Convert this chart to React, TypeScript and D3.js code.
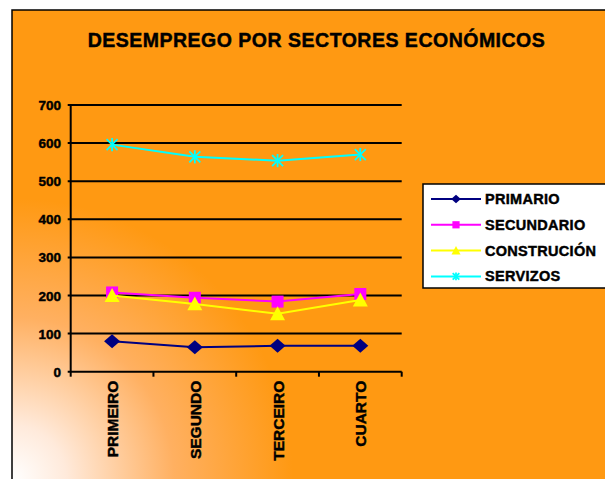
import React from "react";
import * as d3 from "d3";

const categories = ["PRIMEIRO", "SEGUNDO", "TERCEIRO", "CUARTO"];
const seriesNames = ["PRIMARIO", "SECUNDARIO", "CONSTRUCIÓN", "SERVIZOS"];
const primario = [80, 64, 68, 68];
const secundario = [208, 194, 184, 204];
const construcion = [200, 178, 152, 188];
const servizos = [596, 564, 554, 570];
const yTicks = [0, 100, 200, 300, 400, 500, 600, 700];

const colors = ["#000080", "#FF00FF", "#FFFF00", "#00FFFF"];
const markers = ["diamond", "square", "triangle", "x"];
const allSeries = [primario, secundario, construcion, servizos];

const W = 605, H = 479;
const plot = { left: 70.7, right: 401.7, top: 105, bottom: 371.7 };
const font = "Arial, 'Liberation Sans', sans-serif";

function Marker({ type, x, y, color, s = 1 }: { type: string; x: number; y: number; color: string; s?: number }) {
  if (type === "diamond") {
    const rx = 8 * s, ry = 7 * s;
    return <path d={`M${x},${y - ry}L${x + rx},${y}L${x},${y + ry}L${x - rx},${y}Z`} fill={color} />;
  }
  if (type === "square") {
    const r = 6 * s;
    return <rect x={x - r} y={y - r} width={2 * r} height={2 * r} fill={color} />;
  }
  if (type === "triangle") {
    const r = 7.5 * s;
    return <path d={`M${x},${y - r}L${x + r},${y + r * 0.85}L${x - r},${y + r * 0.85}Z`} fill={color} />;
  }
  const r = 5.5 * s;
  return (
    <g stroke={color} strokeWidth={1.8}>
      <line x1={x - r} y1={y - r} x2={x + r} y2={y + r} />
      <line x1={x - r} y1={y + r} x2={x + r} y2={y - r} />
      <line x1={x} y1={y - r * 1.2} x2={x} y2={y + r * 1.2} />
    </g>
  );
}

export default function App() {
  const x = d3.scaleBand().domain(categories).range([plot.left, plot.right]);
  const y = d3.scaleLinear().domain([0, 700]).range([plot.bottom, plot.top]);
  const line = d3.line<number>().x((_, i) => (x(categories[i]) as number) + x.bandwidth() / 2).y((d) => y(d));
  const tickXs = [...categories.map((c) => x(c) as number), plot.right];
  const bold = { fontFamily: font, fontWeight: "bold" as const, fill: "#000", stroke: "#000", strokeWidth: 0.45 };

  return (
    <svg width={W} height={H} style={{ position: "absolute", left: 0, top: 0 }}>
      <defs>
        <radialGradient id="bg" gradientUnits="userSpaceOnUse" cx={12} cy={479} r={360}>
          <stop offset="0" stopColor="#FFFFFF" />
          <stop offset="0.15" stopColor="#FFEADB" />
          <stop offset="0.45" stopColor="#FFB061" />
          <stop offset="0.78" stopColor="#FF9912" />
          <stop offset="1" stopColor="#FF9912" />
        </radialGradient>
      </defs>
      <rect x={0} y={0} width={W} height={H} fill="#fff" />
      <rect x={12} y={10} width={W} height={H} fill="url(#bg)" stroke="#000" strokeWidth={1.5} />
      <text x={316.5} y={47} textAnchor="middle" fontSize={19.5} letterSpacing={0.5} {...bold}>
        DESEMPREGO POR SECTORES ECONÓMICOS
      </text>
      {yTicks.map((t) => (
        <g key={t}>
          <line x1={plot.left - 3} x2={plot.right} y1={y(t)} y2={y(t)} stroke="#000" strokeWidth={2} />
          <text x={61} y={y(t) + 5} textAnchor="end" fontSize={13.5} {...bold}>
            {t}
          </text>
        </g>
      ))}
      <line x1={plot.left} x2={plot.left} y1={plot.top} y2={plot.bottom} stroke="#000" strokeWidth={2} />
      {tickXs.map((tx, i) => (
        <line key={i} x1={tx} x2={tx} y1={plot.bottom} y2={plot.bottom + 5} stroke="#000" strokeWidth={2} />
      ))}
      {categories.map((c) => {
        const cx = (x(c) as number) + x.bandwidth() / 2;
        return (
          <text key={c} transform={`translate(${cx + 6},${plot.bottom + 9}) rotate(-90)`} textAnchor="end" fontSize={15.5} {...bold}>
            {c}
          </text>
        );
      })}
      {allSeries.map((s, si) => (
        <g key={si}>
          <path d={line(s) || ""} fill="none" stroke={colors[si]} strokeWidth={2} />
          {s.map((v, i) => (
            <Marker key={i} type={markers[si]} x={(x(categories[i]) as number) + x.bandwidth() / 2} y={y(v)} color={colors[si]} />
          ))}
        </g>
      ))}
      <rect x={423} y={184} width={200} height={104} fill="#fff" stroke="#000" strokeWidth={1.5} />
      {seriesNames.map((n, i) => {
        const ly = 199 + i * 25.8;
        return (
          <g key={n}>
            <line x1={431} x2={481} y1={ly} y2={ly} stroke={colors[i]} strokeWidth={2} />
            <Marker type={markers[i]} x={456} y={ly} color={colors[i]} s={0.6} />
            <text x={485} y={ly + 5} fontSize={14.5} letterSpacing={0.3} {...bold}>
              {n}
            </text>
          </g>
        );
      })}
    </svg>
  );
}
